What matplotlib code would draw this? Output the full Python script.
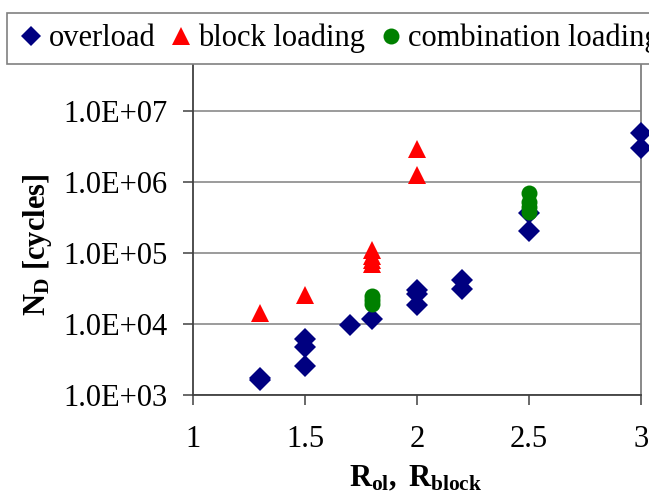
import matplotlib
matplotlib.use("Agg")
import matplotlib.pyplot as plt
from matplotlib.ticker import FixedLocator, NullLocator, FixedFormatter
from matplotlib.lines import Line2D

plt.rcParams['font.family'] = ['Liberation Serif', 'DejaVu Serif']
plt.rcParams['mathtext.fontset'] = 'custom'
plt.rcParams['mathtext.rm'] = 'Liberation Serif'
plt.rcParams['mathtext.bf'] = 'Liberation Serif:bold'
plt.rcParams['mathtext.it'] = 'Liberation Serif:italic'

# ---- data ----
overload_x = [1.3, 1.3, 1.5, 1.5, 1.5, 1.7, 1.8, 2.0, 2.0, 2.0, 2.2, 2.2, 2.5, 2.5, 3.0, 3.0]
overload_y = [1.65e3, 1.75e3, 6.1e3, 4.8e3, 2.6e3, 9.7e3, 1.17e4, 3.0e4, 2.6e4, 1.85e4,
              4.2e4, 3.1e4, 2.05e5, 3.6e5, 4.9e6, 2.95e6]

block_x = [1.3, 1.5, 1.8, 1.8, 1.8, 1.8, 2.0, 2.0]
block_y = [1.41e4, 2.55e4, 1.1e5, 9.0e4, 8.0e4, 7.0e4, 2.9e6, 1.25e6]

comb_x = [1.8, 1.8, 1.8, 2.5, 2.5, 2.5, 2.5]
comb_y = [2.5e4, 2.2e4, 1.9e4, 7.0e5, 5.2e5, 4.4e5, 3.8e5]

x_ticks = [1, 1.5, 2, 2.5, 3]
x_ticklabels = ['1', '1.5', '2', '2.5', '3']
y_ticks = [1e3, 1e4, 1e5, 1e6, 1e7, 1e8]
y_ticklabels = ['1.0E+03', '1.0E+04', '1.0E+05', '1.0E+06', '1.0E+07', '1.0E+08']

series_names = ['overload', 'block loading', 'combination loading']

W, H = 649, 493
fig = plt.figure(figsize=(W / 100, H / 100), dpi=100)
left, right, bottom_px, top_px = 193, 641, 395, 39.6
ax = fig.add_axes([left / W, 1 - bottom_px / H, (right - left) / W, (bottom_px - top_px) / H])

ax.set_yscale('log')
ax.set_xlim(1, 3)
ax.set_ylim(1e3, 1e8)

ax.yaxis.set_major_locator(FixedLocator(y_ticks))
ax.yaxis.set_major_formatter(FixedFormatter(y_ticklabels))
ax.yaxis.set_minor_locator(NullLocator())
ax.xaxis.set_major_locator(FixedLocator(x_ticks))
ax.xaxis.set_major_formatter(FixedFormatter(x_ticklabels))

ax.grid(True, axis='y', color='#808080', linewidth=1.1)
ax.set_axisbelow(True)

for s in ['left', 'bottom']:
    ax.spines[s].set_color('#404040')
    ax.spines[s].set_linewidth(1.3)
ax.spines['right'].set_color('#808080')
ax.spines['right'].set_linewidth(1.3)
ax.spines['top'].set_visible(False)

ax.tick_params(axis='both', which='major', direction='out', length=7.5, width=1.1,
               color='#404040', labelsize=22)
ax.tick_params(axis='y', pad=10.5)
ax.tick_params(axis='x', pad=14)

ms_d, ms_t, ms_c = 11.5, 13.5, 11.5
ax.plot(overload_x, overload_y, linestyle='none', marker='D', markersize=ms_d,
        color='#000080', markeredgewidth=0, clip_on=False, zorder=3)
ax.plot(block_x, block_y, linestyle='none', marker='^', markersize=ms_t,
        color='#FF0000', markeredgewidth=0, clip_on=False, zorder=4)
ax.plot(comb_x, comb_y, linestyle='none', marker='o', markersize=ms_c,
        color='#008000', markeredgewidth=0, clip_on=False, zorder=5)

handles = [
    Line2D([], [], linestyle='none', marker='D', markersize=ms_d * 0.9, color='#000080', markeredgewidth=0),
    Line2D([], [], linestyle='none', marker='^', markersize=ms_t, color='#FF0000', markeredgewidth=0),
    Line2D([], [], linestyle='none', marker='o', markersize=ms_c, color='#008000', markeredgewidth=0),
]
leg = ax.legend(handles, series_names, loc='upper left',
                bbox_to_anchor=(7 / W, 1 - 13 / H), bbox_transform=fig.transFigure,
                ncol=3, fontsize=22, frameon=True, fancybox=False, framealpha=1,
                facecolor='white', edgecolor='#808080', borderaxespad=0,
                borderpad=0.35, handlelength=0.85, handletextpad=0.16,
                columnspacing=0.4, handleheight=0.7)
leg.get_frame().set_linewidth(1.2)
leg.set_zorder(10)

fig.text(38 / W, 1 - 245 / H, r'$\mathbf{N_{D}}$ [cycles]', rotation=90, fontsize=22,
         fontweight='bold', ha='center', va='center')
fig.text(416 / W, 1 - 479 / H, r'$\mathbf{R_{ol},\ R_{block}}$', fontsize=22,
         fontweight='bold', ha='center', va='center')

fig.savefig('out.png', dpi=100)
